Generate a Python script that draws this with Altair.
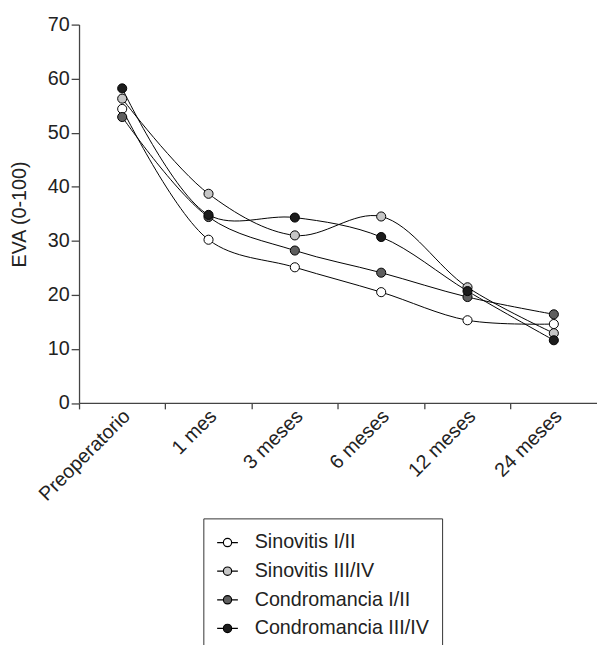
import altair as alt
import pandas as pd

categories = ["Preoperatorio", "1 mes", "3 meses", "6 meses", "12 meses", "24 meses"]
series_names = ["Sinovitis I/II", "Sinovitis III/IV", "Condromancia I/II", "Condromancia III/IV"]
sinovitis_1_2 = [54.4, 30.2, 25.1, 20.5, 15.3, 14.6]
sinovitis_3_4 = [56.3, 38.7, 31.0, 34.5, 21.4, 12.9]
condromancia_1_2 = [52.9, 34.4, 28.2, 24.1, 19.6, 16.4]
condromancia_3_4 = [58.2, 34.8, 34.3, 30.7, 20.7, 11.6]
series_colors = ["#ffffff", "#c6c6c6", "#5f5f5f", "#1c1c1c"]
y_ticks = [0, 10, 20, 30, 40, 50, 60, 70]

rows = []
for name, vals in zip(series_names, [sinovitis_1_2, sinovitis_3_4, condromancia_1_2, condromancia_3_4]):
    for i, (c, v) in enumerate(zip(categories, vals)):
        rows.append({"serie": name, "tiempo": c, "idx": i, "eva": v})
df = pd.DataFrame(rows)

FONT = "Liberation Sans"

x_enc = alt.X(
    "tiempo:N",
    sort=categories,
    scale=alt.Scale(type="band", paddingInner=0, paddingOuter=0),
    axis=alt.Axis(
        title=None, labelAngle=-45, bandPosition=0, labelOffset=5,
        tickSize=6, labelPadding=4, labelAlign="right", labelBaseline="middle",
    ),
)
y_enc = alt.Y(
    "eva:Q",
    scale=alt.Scale(domain=[0, 70], nice=False, zero=True),
    axis=alt.Axis(
        values=y_ticks, tickSize=8, labelPadding=2,
        title="EVA (0-100)", titleFontSize=20, titleFont=FONT, titleFontWeight="normal",
        titleColor="#222", titleX=-60, titleY=192, titleAngle=270,
        titleAlign="center", titleBaseline="middle",
    ),
)

sym = "M-1,0L-0.4,0M0.4,0L1,0M0.4,0A0.4,0.4,0,1,1,-0.4,0A0.4,0.4,0,1,1,0.4,0Z"

lines = alt.Chart(df).mark_line(color="black", strokeWidth=1, interpolate="catmull-rom").encode(
    x=x_enc, y=y_enc, detail="serie:N", order="idx:Q"
)
points = alt.Chart(df).mark_circle(size=85, stroke="black", strokeWidth=1, opacity=1).encode(
    x=x_enc, y=y_enc,
    fill=alt.Fill(
        "serie:N",
        scale=alt.Scale(domain=series_names, range=series_colors),
        legend=alt.Legend(
            title=None, orient="none", legendX=126, legendY=500.5,
            strokeColor="#333", padding=13, symbolType=sym, symbolSize=441,
            symbolStrokeColor="black", symbolStrokeWidth=1.2, labelFontSize=20,
            labelFont=FONT, labelColor="#222", labelOffset=16, rowPadding=7,
            labelLimit=400, symbolOpacity=1,
        ),
    ),
)

chart = alt.layer(lines, points).properties(
    width=525, height=383.5,
    autosize=alt.AutoSizeParams(type="none"),
    padding={"left": 72, "top": 12.5, "right": 0, "bottom": 241},
).configure_view(stroke=None).configure_axis(
    labelFont=FONT, labelFontSize=20, labelColor="#222",
    domainColor="#444", tickColor="#444", domainWidth=1.3, tickWidth=1.3, grid=False,
)

chart.save("out.html", embed_options={"renderer": "svg", "actions": False})
